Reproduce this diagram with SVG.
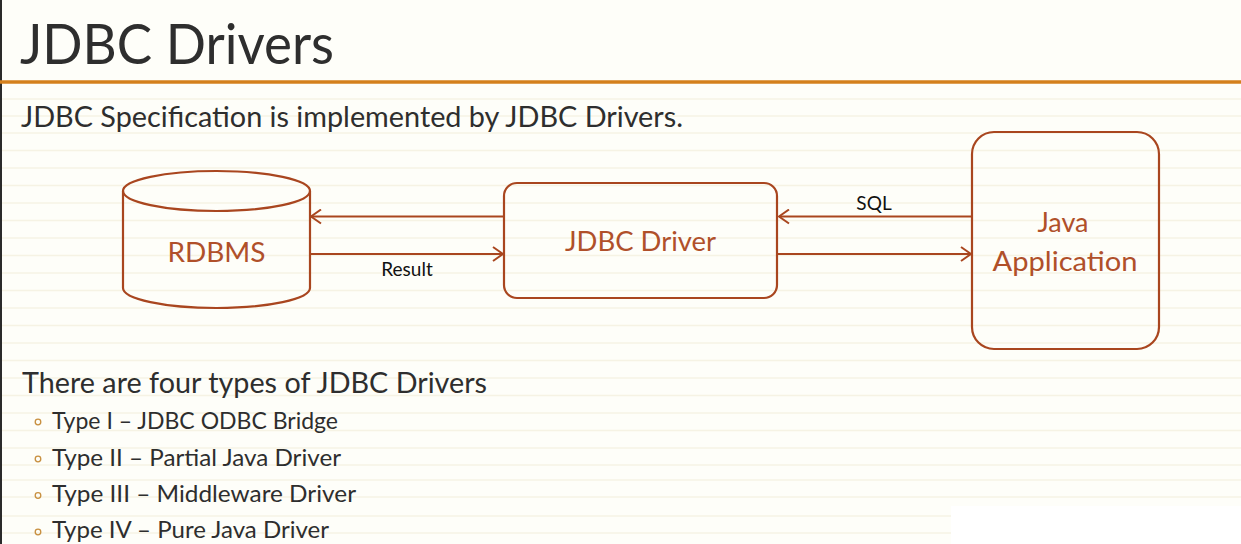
<svg xmlns="http://www.w3.org/2000/svg" width="1241" height="544" viewBox="0 0 1241 544">
<defs>
<style>
.bg{fill:#FEFEF9}
.rule{stroke:#F6F3E4;stroke-width:1.5}
.shape{fill:none;stroke:#A9461F;stroke-width:2.2}
.conn{fill:none;stroke:#A9461F;stroke-width:2.2}
.lbl{font-family:Lato,"Liberation Sans",sans-serif;fill:#B0502A}
.txt{font-family:Lato,"Liberation Sans",sans-serif;fill:#2E2E2E}
.small{font-family:Lato,"Liberation Sans",sans-serif;fill:#111;font-size:19px}
</style>
<marker id="ah" viewBox="0 0 12 16" refX="11" refY="8" markerWidth="12" markerHeight="16" markerUnits="userSpaceOnUse" orient="auto">
<path d="M1,1 L11,8 L1,15" fill="none" stroke="#A9461F" stroke-width="2"/>
</marker>
</defs>
<rect class="bg" x="0" y="0" width="1241" height="544"/>
<g id="ruled-lines">
<line class="rule" x1="0" y1="99" x2="1241" y2="99"/>
<line class="rule" x1="0" y1="116" x2="1241" y2="116"/>
<line class="rule" x1="0" y1="133" x2="1241" y2="133"/>
<line class="rule" x1="0" y1="150.5" x2="1241" y2="150.5"/>
<line class="rule" x1="0" y1="168" x2="1241" y2="168"/>
<line class="rule" x1="0" y1="185.5" x2="1241" y2="185.5"/>
<line class="rule" x1="0" y1="203" x2="1241" y2="203"/>
<line class="rule" x1="0" y1="220.5" x2="1241" y2="220.5"/>
<line class="rule" x1="0" y1="238" x2="1241" y2="238"/>
<line class="rule" x1="0" y1="255.5" x2="1241" y2="255.5"/>
<line class="rule" x1="0" y1="273" x2="1241" y2="273"/>
<line class="rule" x1="0" y1="290.5" x2="1241" y2="290.5"/>
<line class="rule" x1="0" y1="308" x2="1241" y2="308"/>
<line class="rule" x1="0" y1="325.5" x2="1241" y2="325.5"/>
<line class="rule" x1="0" y1="343" x2="1241" y2="343"/>
<line class="rule" x1="0" y1="360.5" x2="1241" y2="360.5"/>
<line class="rule" x1="0" y1="378" x2="1241" y2="378"/>
<line class="rule" x1="0" y1="395.5" x2="1241" y2="395.5"/>
<line class="rule" x1="0" y1="413" x2="1241" y2="413"/>
<line class="rule" x1="0" y1="430.5" x2="1241" y2="430.5"/>
<line class="rule" x1="0" y1="448" x2="1241" y2="448"/>
<line class="rule" x1="0" y1="465" x2="1241" y2="465"/>
<line class="rule" x1="0" y1="480" x2="1241" y2="480"/>
<line class="rule" x1="0" y1="497" x2="1241" y2="497"/>
<line class="rule" x1="0" y1="516" x2="951" y2="516"/>
<line class="rule" x1="0" y1="533" x2="951" y2="533"/>
</g>
<rect x="951" y="506" width="290" height="38" fill="#FFFFFF"/>
<line x1="1" y1="0" x2="1" y2="544" stroke="#2A2A2A" stroke-width="2"/>
<line x1="0" y1="82" x2="1241" y2="82" stroke="#D4801C" stroke-width="3.5"/>
<text class="txt" x="20" y="64" font-size="56" textLength="314" lengthAdjust="spacingAndGlyphs" fill="#333">JDBC Drivers</text>
<text class="txt" x="21" y="127" font-size="28" textLength="662" lengthAdjust="spacingAndGlyphs">JDBC Specification is implemented by JDBC Drivers.</text>
<g id="connectors">
<line class="conn" x1="504" y1="216.5" x2="311" y2="216.5" marker-end="url(#ah)"/>
<line class="conn" x1="311" y1="254" x2="503" y2="254" marker-end="url(#ah)"/>
<line class="conn" x1="972" y1="216.5" x2="779" y2="216.5" marker-end="url(#ah)"/>
<line class="conn" x1="778" y1="254" x2="971" y2="254" marker-end="url(#ah)"/>
<text class="small" x="407" y="276" text-anchor="middle">Result</text>
<text class="small" x="874" y="210" text-anchor="middle">SQL</text>
</g>
<g id="rdbms">
<path class="shape" d="M123,191 A93.5,20 0 0 1 310,191 A93.5,20 0 0 1 123,191 Z"/>
<path class="shape" d="M123,191 L123,288 A93.5,20 0 0 0 310,288 L310,191"/>
<text class="lbl" x="216.5" y="262" font-size="27" text-anchor="middle" textLength="98" lengthAdjust="spacingAndGlyphs">RDBMS</text>
</g>
<g id="jdbc-driver">
<rect class="shape" x="504" y="183" width="273" height="115" rx="13"/>
<text class="lbl" x="640.5" y="251" font-size="27" text-anchor="middle" textLength="151" lengthAdjust="spacingAndGlyphs">JDBC Driver</text>
</g>
<g id="java-app">
<rect class="shape" x="972" y="132" width="187" height="217" rx="22"/>
<text class="lbl" x="1063" y="232" font-size="27" text-anchor="middle">Java</text>
<text class="lbl" x="1065" y="271" font-size="27" text-anchor="middle" textLength="145" lengthAdjust="spacingAndGlyphs">Application</text>
</g>
<text class="txt" x="22" y="393" font-size="28" textLength="465" lengthAdjust="spacingAndGlyphs">There are four types of JDBC Drivers</text>
<g fill="none" stroke="#C89040" stroke-width="1.3">
<circle cx="38" cy="422" r="2.8"/>
<circle cx="38" cy="459" r="2.8"/>
<circle cx="38" cy="495.5" r="2.8"/>
<circle cx="38" cy="532" r="2.8"/>
</g>
<text class="txt" x="52" y="429" font-size="23" textLength="286" lengthAdjust="spacingAndGlyphs">Type I – JDBC ODBC Bridge</text>
<text class="txt" x="52" y="466" font-size="23" textLength="289" lengthAdjust="spacingAndGlyphs">Type II – Partial Java Driver</text>
<text class="txt" x="52" y="502" font-size="23" textLength="304" lengthAdjust="spacingAndGlyphs">Type III – Middleware Driver</text>
<text class="txt" x="52" y="538" font-size="23" textLength="277" lengthAdjust="spacingAndGlyphs">Type IV – Pure Java Driver</text>
</svg>
